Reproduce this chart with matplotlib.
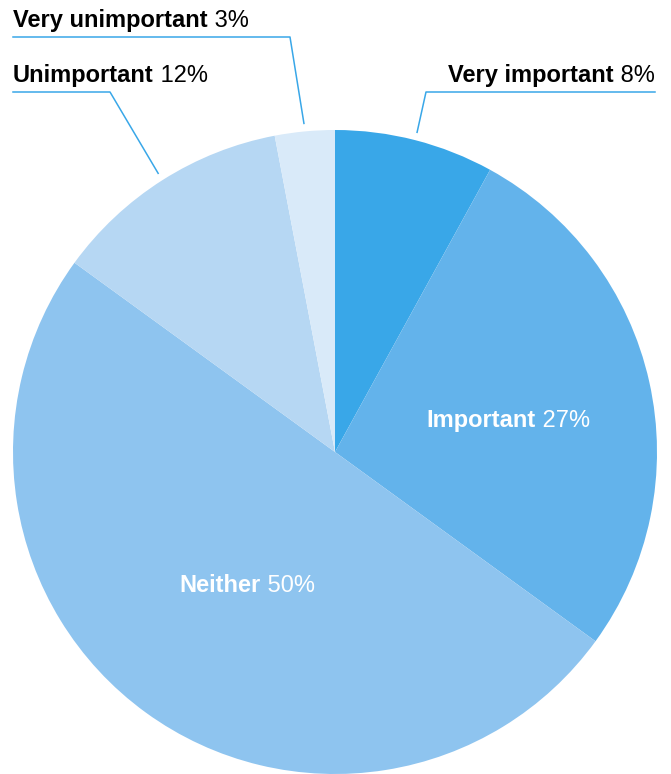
import numpy as np
import matplotlib
matplotlib.use("Agg")
import matplotlib.pyplot as plt

categories = ["Very important", "Important", "Neither", "Unimportant", "Very unimportant"]
values = [8, 27, 50, 12, 3]
colors = ["#39a7e8", "#63b3eb", "#8ec4ef", "#b6d7f3", "#d9eaf9"]
line_color = "#39a7e8"

W, H = 671, 774
fig = plt.figure(figsize=(W / 100, H / 100), dpi=100)
fig.patch.set_facecolor("white")

# pie axes: centre (335,452) px from top-left, radius 322 px
cx, cy, R = 335, 452, 322
ax = fig.add_axes([(cx - R) / W, (H - cy - R) / H, 2 * R / W, 2 * R / H])
wedges, _ = ax.pie(values, colors=colors, startangle=90, counterclock=False,
                   radius=1.0, wedgeprops=dict(linewidth=0))
ax.set_xlim(-1, 1)
ax.set_ylim(-1, 1)
ax.set_aspect("equal")
ax.axis("off")

FONT = "Liberation Sans"
FS = 17

def px(x, y):
    return (x / W, 1 - y / H)

def two_part(x, y, bold, reg, color, align, fs=FS):
    """Draw bold + regular text at figure pixel position (baseline y)."""
    r = fig.canvas.get_renderer()
    t1 = fig.text(0, 0, bold, fontsize=fs, fontweight="bold", family=FONT, color=color, va="baseline")
    t2 = fig.text(0, 0, " " + reg, fontsize=fs, family=FONT, color=color, va="baseline")
    w1 = t1.get_window_extent(r).width
    w2 = t2.get_window_extent(r).width
    total = w1 + w2
    if align == "left":
        x0 = x
    elif align == "right":
        x0 = x - total
    else:
        x0 = x - total / 2
    t1.set_position(px(x0, y))
    t2.set_position(px(x0 + w1, y))

fig.canvas.draw()

# Outside labels with leader lines
outside = {
    "Very important": dict(label_xy=(655, 82), align="right", hline=(426, 655, 92)),
    "Very unimportant": dict(label_xy=(13, 27), align="left", hline=(13, 290, 37)),
    "Unimportant": dict(label_xy=(13, 82), align="left", hline=(13, 110, 92)),
}
inside = {
    "Important": (508, 427),
    "Neither": (247, 592),
}

for w, cat, v in zip(wedges, categories, values):
    mid = np.deg2rad((w.theta1 + w.theta2) / 2)
    if cat in outside:
        o = outside[cat]
        rr = 1.025
        ex = cx + R * rr * np.cos(mid)
        ey = cy - R * rr * np.sin(mid)
        x0, x1, hy = o["hline"]
        elbow_x = x0 if o["align"] == "right" else x1
        xs = [ex, elbow_x] + ([x1] if o["align"] == "right" else [x0])
        ys = [ey, hy, hy]
        fig.add_artist(plt.Line2D([a / W for a in xs], [1 - b / H for b in ys],
                                  color=line_color, lw=1.1, transform=fig.transFigure))
        two_part(*o["label_xy"], cat, f"{v}%", "black", o["align"])
    elif cat in inside:
        two_part(*inside[cat], cat, f"{v}%", "white", "center")

fig.savefig("out.png", dpi=100, facecolor="white")
